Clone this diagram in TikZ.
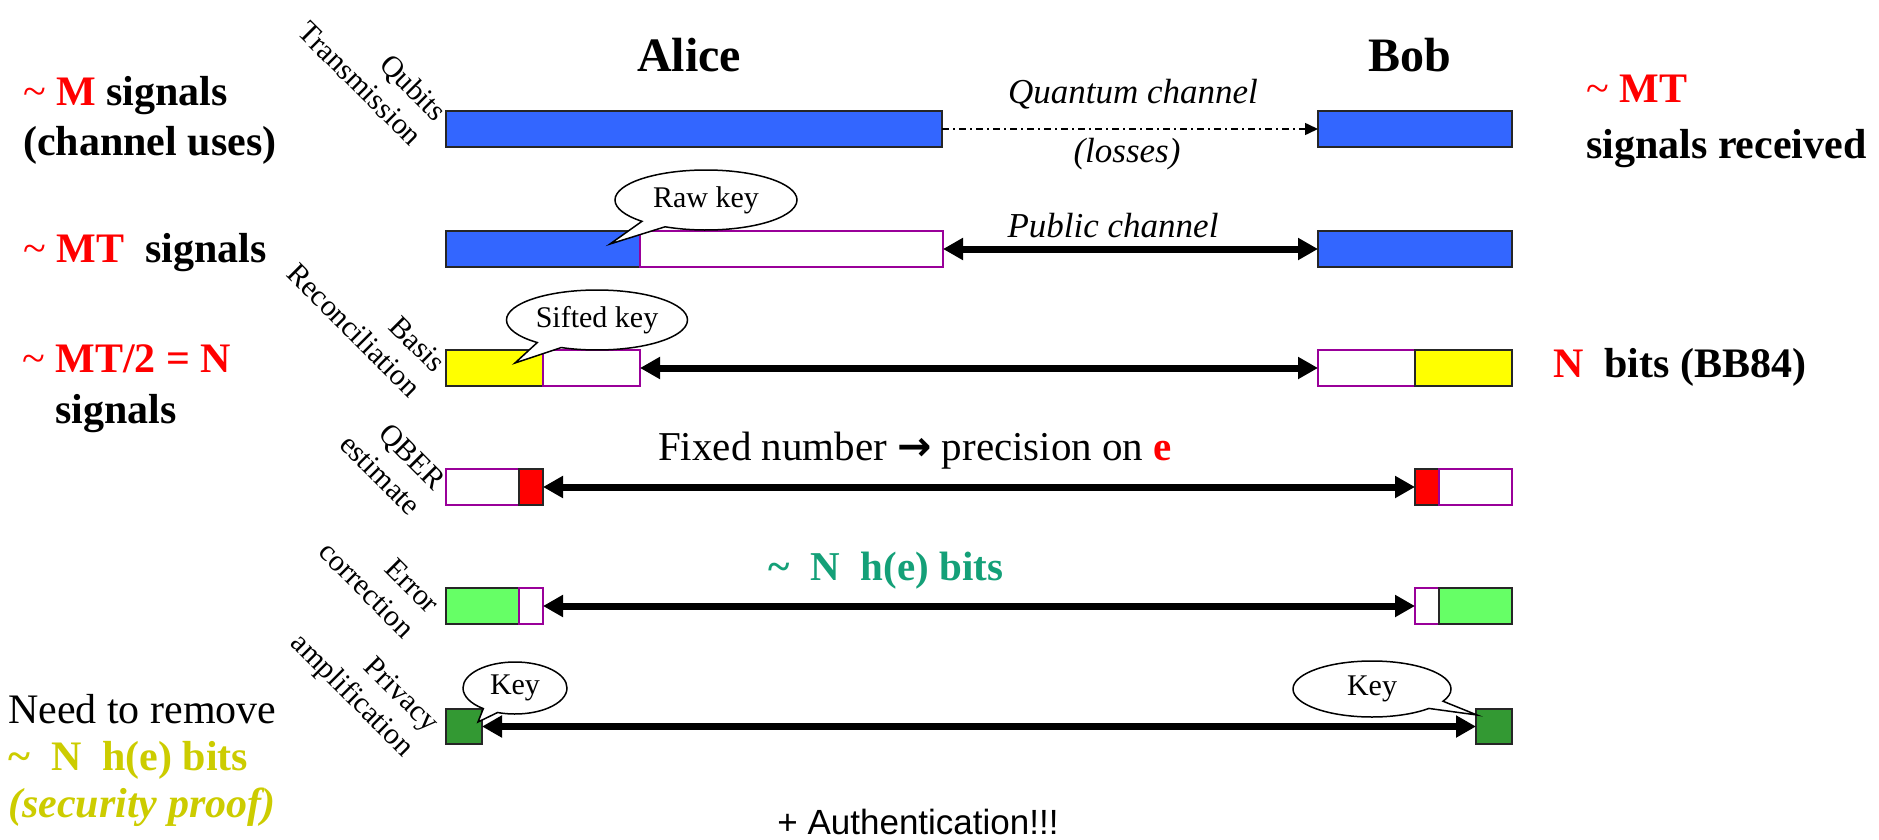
\documentclass[tikz,border=0pt]{standalone}
\usepackage{fontspec}
\setmainfont{Liberation Serif}
\setsansfont{Liberation Sans}
\newfontfamily\symfont{DejaVu Sans}
\usetikzlibrary{arrows.meta,shapes.callouts}
\definecolor{qblue}{RGB}{51,102,255}
\definecolor{qyellow}{RGB}{255,255,0}
\definecolor{qred}{RGB}{255,0,0}
\definecolor{lgreen}{RGB}{102,255,102}
\definecolor{dgreen}{RGB}{51,153,51}
\definecolor{purp}{RGB}{153,0,153}
\definecolor{tealg}{RGB}{20,160,120}
\definecolor{olive}{RGB}{204,204,0}
\newcommand\fs[2]{\fontsize{#1}{#2}\selectfont}
\tikzset{
  bar/.style={rectangle, draw=black!85, line width=1.5pt, anchor=north west,
    minimum height=36pt, inner sep=0pt, outer sep=0pt},
  wbar/.style={bar, draw=purp, fill=white},
  rot/.style={rotate=-45, anchor=north east, align=right, inner sep=0pt, font=\fs{30}{35}},
  txt/.style={inner sep=0pt, anchor=base west},
  callbox/.style={ellipse callout, draw=black, fill=white, line width=1.5pt,
    inner sep=0pt, font=\fs{30}{36}, callout pointer arc=18},
  pub/.style={line width=7pt, {Triangle[length=20pt,width=21pt]}-{Triangle[length=20pt,width=21pt]}},
  qline/.style={line width=1.5pt, dash pattern=on 7pt off 4pt on 2pt off 4pt,
    -{Triangle[length=13pt,width=12pt]}}
}
\begin{document}
\begin{tikzpicture}[x=1pt,y=-1pt]
\useasboundingbox (0,0) rectangle (1879,840);

% headers
\node[txt, anchor=base, font=\fs{48}{56}\bfseries] (alice) at (689,72) {Alice};
\node[txt, anchor=base, font=\fs{48}{56}\bfseries] (bob) at (1410,72) {Bob};

% row 1
\node[bar, fill=qblue, minimum width=496pt] (A1) at (446,111) {};
\node[bar, fill=qblue, minimum width=194pt] (B1) at (1318,111) {};
\draw[qline] (A1.east) -- (B1.west);
\node[txt, anchor=base, font=\fs{35}{40}\itshape] (qc) at (1133,104) {Quantum channel};
\node[txt, anchor=base, font=\fs{35}{40}\itshape] (ls) at (1127,162) {(losses)};

% row 2
\node[bar, fill=qblue, minimum width=194pt] (A2a) at (446,231) {};
\node[wbar, minimum width=303pt] (A2b) at (640,231) {};
\node[bar, fill=qblue, minimum width=194pt] (B2) at (1318,231) {};
\draw[pub] (A2b.east) -- (B2.west);
\node[txt, anchor=base, font=\fs{35}{40}\itshape] (pc) at (1113,237) {Public channel};

% row 3
\node[bar, fill=qyellow, minimum width=97pt] (A3a) at (446,350) {};
\node[wbar, minimum width=97pt] (A3b) at (543,350) {};
\node[wbar, minimum width=97pt] (B3a) at (1318,350) {};
\node[bar, fill=qyellow, minimum width=97pt] (B3b) at (1415,350) {};
\draw[pub] (A3b.east) -- (B3a.west);

% row 4
\node[wbar, minimum width=73pt] (A4a) at (446,469) {};
\node[bar, fill=qred, minimum width=24pt] (A4b) at (519,469) {};
\node[bar, fill=qred, minimum width=24pt] (B4a) at (1415,469) {};
\node[wbar, minimum width=73pt] (B4b) at (1439,469) {};
\draw[pub] (A4b.east) -- (B4a.west);
\node[txt, anchor=base, font=\fs{41}{48}] (fx) at (915,460) {Fixed number {\symfont\bfseries →} precision on \textcolor{qred}{\bfseries e}};

% row 5
\node[bar, fill=lgreen, minimum width=73pt] (A5a) at (446,588) {};
\node[wbar, minimum width=24pt] (A5b) at (519,588) {};
\node[wbar, minimum width=24pt] (B5a) at (1415,588) {};
\node[bar, fill=lgreen, minimum width=73pt] (B5b) at (1439,588) {};
\draw[pub] (A5b.east) -- (B5a.west);
\node[txt, anchor=base, font=\fs{41}{48}\bfseries, text=tealg] (nh) at (886,580) {\textasciitilde\ \ N\ \ h(e) bits};

% row 6
\node[bar, fill=dgreen, minimum width=36pt, minimum height=35pt] (A6) at (446,709) {};
\node[bar, fill=dgreen, minimum width=36pt, minimum height=35pt] (B6) at (1476,709) {};
\draw[pub] (A6.east) -- (B6.west);

% callouts
\node[callbox, minimum width=182pt, minimum height=60pt, callout absolute pointer={(610,244)}] (rk) at (706,200) {Raw key};
\node[callbox, minimum width=181pt, minimum height=60pt, callout absolute pointer={(515,363)}] (sk) at (597,320) {Sifted key};
\node[callbox, minimum width=104pt, minimum height=52pt, callout absolute pointer={(478,722)}] (ka) at (515,688) {Key};
\node[callbox, minimum width=158pt, minimum height=56pt, callout absolute pointer={(1477,715)}] (kb) at (1372,689) {Key};

% rotated step labels
\node[rot] (l1) at (450,108) {Qubits\\Transmission};
\node[rot] (l3) at (448,360) {Basis\\Reconciliation};
\node[rot] (l4) at (448,478) {QBER\\estimate};
\node[rot] (l5) at (442,601) {Error\\correction};
\node[rot] (l6) at (442,719) {Privacy\\amplification};

% left texts (base anchor = baseline of last line)
\node[txt, align=left, font=\fs{42}{50}\bfseries] (m1) at (23,155)
  {\textcolor{qred}{{\mdseries\textasciitilde}\ M} signals\\(channel uses)};
\node[txt, font=\fs{42}{50}\bfseries] (m2) at (23,262)
  {\textcolor{qred}{{\mdseries\textasciitilde}\ MT}\ \ signals};
\node[txt, align=left, font=\fs{42}{51}\bfseries] (m3) at (22,423)
  {\textcolor{qred}{{\mdseries\textasciitilde}\ MT/2 = N}\\\hspace*{33pt}signals};
\node[txt, align=left, font=\fs{42}{47}] (m4) at (8,817)
  {Need to remove\\\textcolor{olive}{\bfseries\textasciitilde\ \ N\ \ h(e) bits}\\\textcolor{olive}{\bfseries\itshape (security proof)}};

% right texts
\node[txt, align=left, font=\fs{42}{55}\bfseries] (r1) at (1586,158)
  {\textcolor{qred}{{\mdseries\textasciitilde}\ MT}\\signals received};
\node[txt, font=\fs{42}{50}\bfseries] (r2) at (1553,377)
  {\textcolor{qred}{N}\ \ bits (BB84)};

% bottom
\node[txt, anchor=base, font=\fs{35}{40}\sffamily] (auth) at (918,834) {+ Authentication!!!};
\end{tikzpicture}
\end{document}
